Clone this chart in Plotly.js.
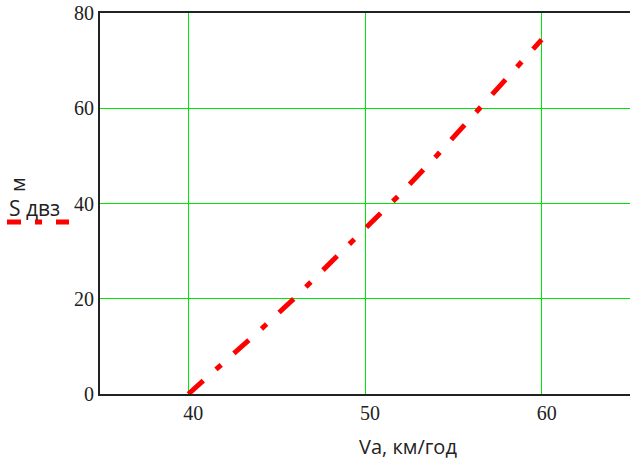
<!DOCTYPE html>
<html>
<head>
<meta charset="utf-8">
<script src="https://cdn.plot.ly/plotly-3.0.1.min.js"></script>
<style>html,body{margin:0;padding:0;background:#fff;}#chart{width:630px;height:459px;}</style>
</head>
<body>
<div id="chart"></div>
<script>
// Data
var speedKmh = [40, 42, 44, 46, 48, 50, 52, 54, 56, 58, 60];
var brakingDistM = [0, 6.5, 13.2, 20.1, 27.3, 34.6, 42.0, 49.8, 57.9, 66.1, 74.4];
var xTicks = [40, 50, 60];
var yTicks = [0, 20, 40, 60, 80];

var W = 630, H = 459, L = 100, R = 0, T = 13, B = 65;
var pw = W - L - R, ph = H - T - B;
function px2x(p) { return (p - L) / pw; }
function px2y(p) { return (H - B - p) / ph; }

var red = '#ff0000';
var trace = {
  x: speedKmh,
  y: brakingDistM,
  type: 'scatter',
  mode: 'lines',
  line: {color: red, width: 5, dash: '20px,17px,7px,17px'},
  hoverinfo: 'skip',
  showlegend: false
};

var tickFont = {family: 'Liberation Serif, Times New Roman, serif', size: 20, color: '#222'};
var labFont = {family: 'Open Sans', size: 20, color: '#222'};

var layout = {
  width: W, height: H,
  margin: {l: L, r: R, t: T, b: B, pad: 0},
  paper_bgcolor: '#fff', plot_bgcolor: '#fff',
  showlegend: false,
  xaxis: {
    range: [35, 65], tickvals: xTicks, ticktext: xTicks.map(String),
    showgrid: true, gridcolor: '#00e600', gridwidth: 1,
    zeroline: false, showline: true, linecolor: '#222', linewidth: 2, mirror: true,
    ticks: '', tickfont: tickFont, ticklabelstandoff: 0, ticklabelshift: 5, fixedrange: true
  },
  yaxis: {
    range: [0, 80], tickvals: yTicks, ticktext: yTicks.map(String),
    showgrid: true, gridcolor: '#00e600', gridwidth: 1,
    zeroline: false, showline: true, linecolor: '#222', linewidth: 2,
    ticks: '', tickfont: tickFont, ticklabelstandoff: 0, fixedrange: true
  },
  annotations: [
    {text: 'Va, км/год', xref: 'paper', yref: 'paper', x: px2x(408), y: px2y(446),
     xanchor: 'center', yanchor: 'middle', showarrow: false, font: labFont},
    {text: 'S двз', xref: 'paper', yref: 'paper', x: px2x(34), y: px2y(208),
     xanchor: 'center', yanchor: 'middle', showarrow: false, font: {family: 'Open Sans', size: 21, color: '#222'}},
    {text: 'м', xref: 'paper', yref: 'paper', x: px2x(17), y: px2y(185),
     xanchor: 'center', yanchor: 'middle', showarrow: false, textangle: -90, font: labFont}
  ],
  shapes: [
    {type: 'line', xref: 'paper', yref: 'paper', x0: px2x(7), x1: px2x(69), y0: px2y(222), y1: px2y(222),
     line: {color: red, width: 5, dash: '14px,14px,7px,14px'}}
  ]
};

Plotly.newPlot('chart', [trace], layout, {displayModeBar: false, staticPlot: true});
</script>
</body>
</html>
